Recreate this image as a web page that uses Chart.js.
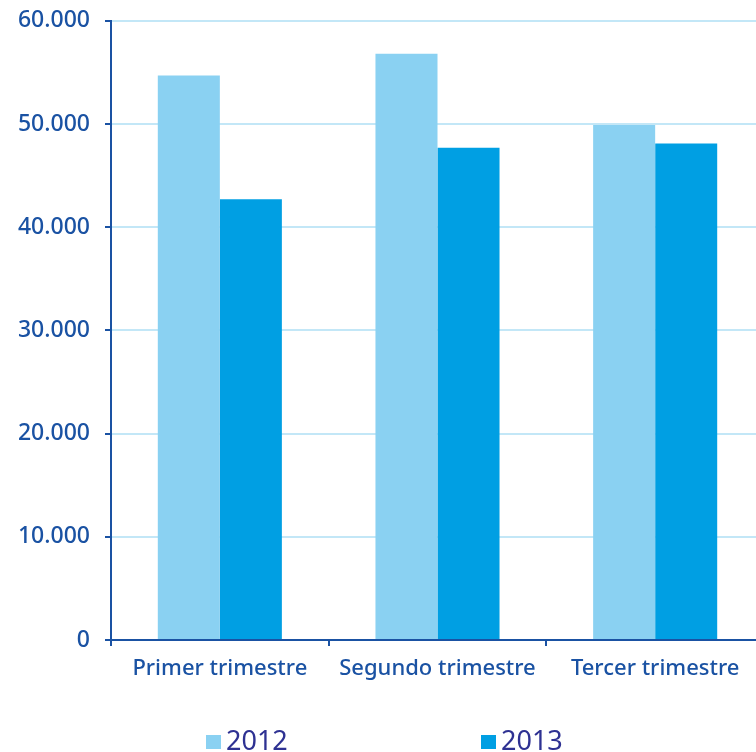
<!DOCTYPE html>
<html><head><meta charset="utf-8">
<script src="https://cdn.jsdelivr.net/npm/chart.js@4/dist/chart.umd.min.js"></script>
<style>
html,body{margin:0;padding:0;background:#fff;overflow:hidden;width:756px;height:752px}
#wrap{position:absolute;left:0;top:-8px;width:764px;height:708px}
#legend{position:absolute;left:0;top:0;width:756px;height:752px;pointer-events:none;font-family:"Noto Sans",sans-serif}
.li{position:absolute;top:724px;display:flex;align-items:center;color:#2e3192;font-size:27px;line-height:32px}
.li span.b{display:inline-block;width:15px;height:14px;margin-right:5px;margin-top:4px}
</style></head>
<body>
<div id="wrap"><canvas id="c" width="764" height="708"></canvas></div>
<div id="legend"></div>
<script>
const categories = ["Primer trimestre", "Segundo trimestre", "Tercer trimestre"];
const series2012 = [54700, 56800, 49900];
const series2013 = [42700, 47700, 48100];
const seriesNames = ["2012", "2013"];
const seriesColors = ["#8ad1f2", "#009fe3"];
const legendLefts = [206, 481];

const axisBlue = "#1a52a3";
const gridBlue = "#c3e7f7";
const fmt = v => String(v).replace(/\B(?=(\d{3})+(?!\d))/g, ".");

const ctx = document.getElementById('c');
const chart = new Chart(ctx, {
  type: 'bar',
  data: {
    labels: categories,
    datasets: [
      {label: seriesNames[0], data: series2012, backgroundColor: seriesColors[0], categoryPercentage: 0.57, barPercentage: 1.0},
      {label: seriesNames[1], data: series2013, backgroundColor: seriesColors[1], categoryPercentage: 0.57, barPercentage: 1.0}
    ]
  },
  options: {
    responsive: false,
    animation: false,
    devicePixelRatio: 1,
    layout: {padding: {top: 10, right: 0, left: 0, bottom: 0}},
    plugins: {legend: {display: false}, tooltip: {enabled: false}},
    scales: {
      x: {
        offset: true,
        grid: {display: true, drawOnChartArea: false, tickColor: axisBlue, tickLength: 6, lineWidth: 2, offset: true},
        border: {color: axisBlue, width: 2},
        ticks: {color: axisBlue, font: {family: "Noto Sans", size: 22, weight: 500}, padding: 10, maxRotation: 0},
        afterFit: s => { s.height = 60; }
      },
      y: {
        min: 0, max: 60000,
        ticks: {stepSize: 10000, color: axisBlue, font: {family: "Noto Sans", size: 23, weight: 500}, padding: 15, callback: v => fmt(v)},
        grid: {color: gridBlue, lineWidth: 2, tickColor: axisBlue, tickLength: 6},
        border: {color: axisBlue, width: 2},
        afterFit: s => { s.width = 111; }
      }
    }
  }
});

const lg = document.getElementById('legend');
seriesNames.forEach((n, i) => {
  const d = document.createElement('div');
  d.className = 'li';
  d.style.left = legendLefts[i] + 'px';
  d.innerHTML = '<span class="b" style="background:' + seriesColors[i] + '"></span>' + n;
  lg.appendChild(d);
});
</script>
</body></html>
